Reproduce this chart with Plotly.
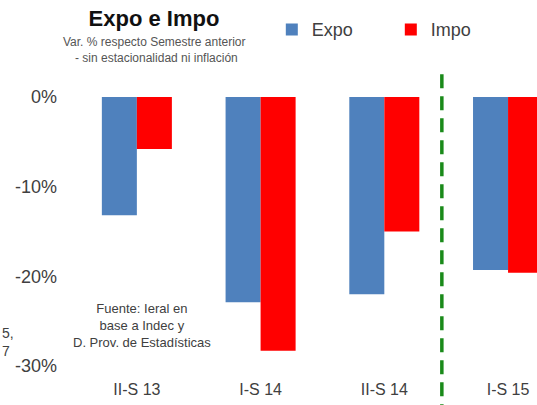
import plotly.graph_objects as go

# Semester labels and % change vs previous semester (seasonally adjusted, real)
semestres = ["II-S 13", "I-S 14", "II-S 14", "I-S 15"]
expo = [-13.2, -22.9, -22.0, -19.3]
impo = [-5.8, -28.3, -15.0, -19.6]
y_ticks = [0, -10, -20, -30]
y_tick_text = ["0%", "-10%", "-20%", "-30%"]

AZUL = "#4f81bd"
ROJO = "#ff0000"
VERDE = "#1a8a1a"
GRIS = "#404040"
FUENTE = "Liberation Sans, Arial, sans-serif"

fig = go.Figure()
fig.add_trace(go.Bar(name="Expo", x=semestres, y=expo, marker=dict(color=AZUL, line=dict(width=0))))
fig.add_trace(go.Bar(name="Impo", x=semestres, y=impo, marker=dict(color=ROJO, line=dict(width=0))))

# Separator between 2014 and 2015 semesters
fig.add_shape(
    type="line", xref="x", yref="paper",
    x0=2.465, x1=2.465, y0=1.085, y1=-0.2,
    line=dict(color=VERDE, width=3.5, dash="14px,8px"),
    layer="above",
)

fig.update_layout(
    width=537, height=405,
    margin=dict(l=75, r=0, t=97, b=39),
    paper_bgcolor="white", plot_bgcolor="white",
    font=dict(family=FUENTE, color=GRIS),
    barmode="group", bargap=0.434, bargroupgap=0,
    title=dict(
        text="<b>Expo e Impo</b>", xref="container", yref="container",
        x=154 / 537, y=1 - 18 / 405, xanchor="center", yanchor="middle",
        font=dict(family=FUENTE, size=22, color="#111111"),
    ),
    showlegend=True,
    legend=dict(
        orientation="h", xref="paper", yref="paper",
        x=0.426, y=1.25, xanchor="left", yanchor="middle",
        font=dict(family=FUENTE, size=18, color=GRIS),
        bgcolor="rgba(0,0,0,0)", entrywidth=74, entrywidthmode="pixels",
        traceorder="normal",
    ),
    xaxis=dict(
        range=[-0.5, 3.234], showgrid=False, zeroline=False, showline=False,
        ticks="", ticklabelstandoff=12,
        tickfont=dict(family=FUENTE, size=16, color=GRIS),
    ),
    yaxis=dict(
        range=[-30, 0], tickmode="array", tickvals=y_ticks, ticktext=y_tick_text,
        showgrid=False, zeroline=False, showline=False, ticks="",
        ticklabelstandoff=17,
        tickfont=dict(family=FUENTE, size=18, color=GRIS),
    ),
    annotations=[
        dict(text="Var. % respecto Semestre anterior", xref="paper", yref="paper",
             x=(154 - 75) / 462, y=(366 - 42) / 269, xanchor="center", yanchor="middle",
             showarrow=False, font=dict(family=FUENTE, size=12, color="#555555")),
        dict(text="- sin estacionalidad ni inflación", xref="paper", yref="paper",
             x=(156 - 75) / 462, y=(366 - 58) / 269, xanchor="center", yanchor="middle",
             showarrow=False, font=dict(family=FUENTE, size=12, color="#555555")),
        dict(text="Fuente: Ieral en<br>base a Indec y<br>D. Prov. de Estadísticas",
             xref="paper", yref="paper",
             x=(142 - 75) / 462, y=(366 - 325) / 269, xanchor="center", yanchor="middle",
             align="center", showarrow=False,
             font=dict(family=FUENTE, size=13, color=GRIS)),
        dict(text="5,<br>7", xref="paper", yref="paper",
             x=-75 / 462, y=(366 - 342) / 269, xanchor="left", yanchor="middle",
             align="left", showarrow=False,
             font=dict(family=FUENTE, size=14, color=GRIS)),
    ],
)

fig.write_html("out.html")
